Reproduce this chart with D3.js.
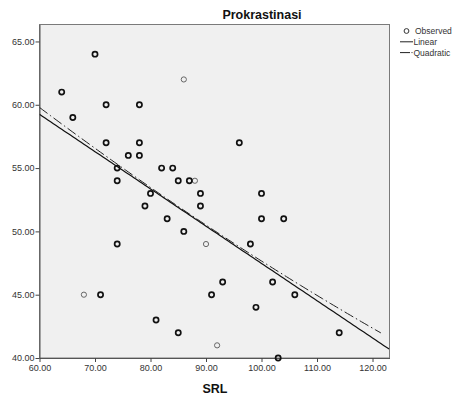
<!DOCTYPE html>
<html>
<head>
<meta charset="utf-8">
<script src="https://cdn.jsdelivr.net/npm/d3@7"></script>
<style>
  body { margin: 0; background: #fff; }
  text { font-family: "Liberation Sans", Arial, sans-serif; }
</style>
</head>
<body>
<div id="chart"></div>
<script>
// observed cases (SRL, Prokrastinasi); heavy = drawn dark in the original
const srl =   [64, 66, 70, 71, 72, 72, 74, 74, 74, 76, 78, 78, 78, 79, 80, 81, 82, 83, 84, 85, 85, 86, 87, 89, 89, 91, 93, 96, 98, 99, 100, 100, 102, 103, 104, 106, 114]
const prok =  [61, 59, 64, 45, 60, 57, 55, 54, 49, 56, 60, 57, 56, 52, 53, 43, 55, 51, 55, 54, 42, 50, 54, 53, 52, 45, 46, 57, 49, 44, 53, 51, 46, 40, 51, 45, 42]
// lighter cases
const srlLight =  [68, 86, 88, 90, 92]
const prokLight = [45, 62, 54, 49, 41]

const xTicks = [60, 70, 80, 90, 100, 110, 120]
const yTicks = [40, 45, 50, 55, 60, 65]

// fitted curves
const linearCoef = [76.9, -0.2943]            // a + b*x
const quadCoef = [50.5, -0.2905, 0.000638]     // around x = 90
const legendItems = ["Observed", "Linear", "Quadratic"]

const width = 457, height = 398
const margin = { left: 39.5, right: 67.5, top: 24.5, bottom: 40 }

const svg = d3.select('#chart').append('svg')
  .attr('width', width).attr('height', height)

const x = d3.scaleLinear().domain([60, 123.06]).range([margin.left, width - margin.right])
const y = d3.scaleLinear().domain([40, 66.34]).range([height - margin.bottom, margin.top])

svg.append('rect')
  .attr('x', margin.left).attr('y', margin.top)
  .attr('width', x.range()[1] - margin.left)
  .attr('height', y.range()[0] - margin.top)
  .attr('fill', '#f0f0f0')
  .attr('stroke', '#7a7a7a')

svg.append('defs').append('clipPath').attr('id', 'clip')
  .append('rect')
  .attr('x', margin.left).attr('y', margin.top)
  .attr('width', x.range()[1] - margin.left)
  .attr('height', y.range()[0] - margin.top)

// axes
const xAxis = svg.append('g')
  .attr('transform', `translate(0,${y.range()[0]})`)
  .call(d3.axisBottom(x).tickValues(xTicks).tickFormat(d3.format('.2f')).tickSize(4).tickSizeOuter(0))
const yAxis = svg.append('g')
  .attr('transform', `translate(${margin.left},0)`)
  .call(d3.axisLeft(y).tickValues(yTicks).tickFormat(d3.format('.2f')).tickSize(4).tickSizeOuter(0))
for (const ax of [xAxis, yAxis]) {
  ax.select('.domain').attr('stroke', '#555')
  ax.selectAll('.tick line').attr('stroke', '#444')
  ax.selectAll('.tick text').attr('fill', '#333').style('font-size', '9px')
    .style('font-family', '"Liberation Sans", Arial, sans-serif')
}
xAxis.selectAll('.tick text').attr('y', 7)
yAxis.selectAll('.tick text').attr('x', -5)

// fit lines
const xs = d3.range(60, 123.1, 0.5)
const lin = d => linearCoef[0] + linearCoef[1] * d
const quad = d => quadCoef[0] + quadCoef[1] * (d - 90) + quadCoef[2] * (d - 90) ** 2
const line = f => d3.line().x(d => x(d)).y(d => y(f(d)))

const fits = svg.append('g').attr('clip-path', 'url(#clip)')
fits.append('path').attr('d', line(quad)(xs.filter(d => d <= 121.7)))
  .attr('fill', 'none').attr('stroke', '#222').attr('stroke-width', 1)
  .attr('stroke-dasharray', '10,3,1.5,3')
fits.append('path').attr('d', line(lin)(xs))
  .attr('fill', 'none').attr('stroke', '#111').attr('stroke-width', 1.2)

// points
svg.append('g').selectAll('circle')
  .data(d3.zip(srlLight, prokLight))
  .join('circle')
  .attr('cx', d => x(d[0])).attr('cy', d => y(d[1])).attr('r', 2.6)
  .attr('fill', 'none').attr('stroke', '#666').attr('stroke-width', 1)
svg.append('g').selectAll('circle')
  .data(d3.zip(srl, prok))
  .join('circle')
  .attr('cx', d => x(d[0])).attr('cy', d => y(d[1])).attr('r', 2.6)
  .attr('fill', 'none').attr('stroke', '#111').attr('stroke-width', 1.7)

// titles
svg.append('text').attr('x', 262).attr('y', 19).attr('text-anchor', 'middle')
  .style('font-size', '12.5px').style('font-weight', 'bold').attr('fill', '#111')
  .text('Prokrastinasi')
svg.append('text').attr('x', 215).attr('y', 393).attr('text-anchor', 'middle')
  .style('font-size', '12.5px').style('font-weight', 'bold').attr('fill', '#111')
  .text('SRL')

// legend
const lg = svg.append('g').attr('transform', 'translate(400,31)')
legendItems.forEach((name, i) => {
  const g = lg.append('g').attr('transform', `translate(0,${i * 10.8})`)
  if (i === 0) {
    g.append('circle').attr('cx', 6.5).attr('cy', 0).attr('r', 2.4)
      .attr('fill', 'none').attr('stroke', '#333').attr('stroke-width', 1)
  } else {
    g.append('line').attr('x1', 0).attr('x2', 13).attr('y1', 0).attr('y2', 0)
      .attr('stroke', '#222').attr('stroke-width', 1)
      .attr('stroke-dasharray', i === 2 ? '10,1.5,1,1.5' : null)
  }
  g.append('text').attr('x', i === 0 ? 15 : 13.5).attr('y', 3)
    .style('font-size', '8.5px').attr('fill', '#333').text(name)
})
</script>
</body>
</html>
